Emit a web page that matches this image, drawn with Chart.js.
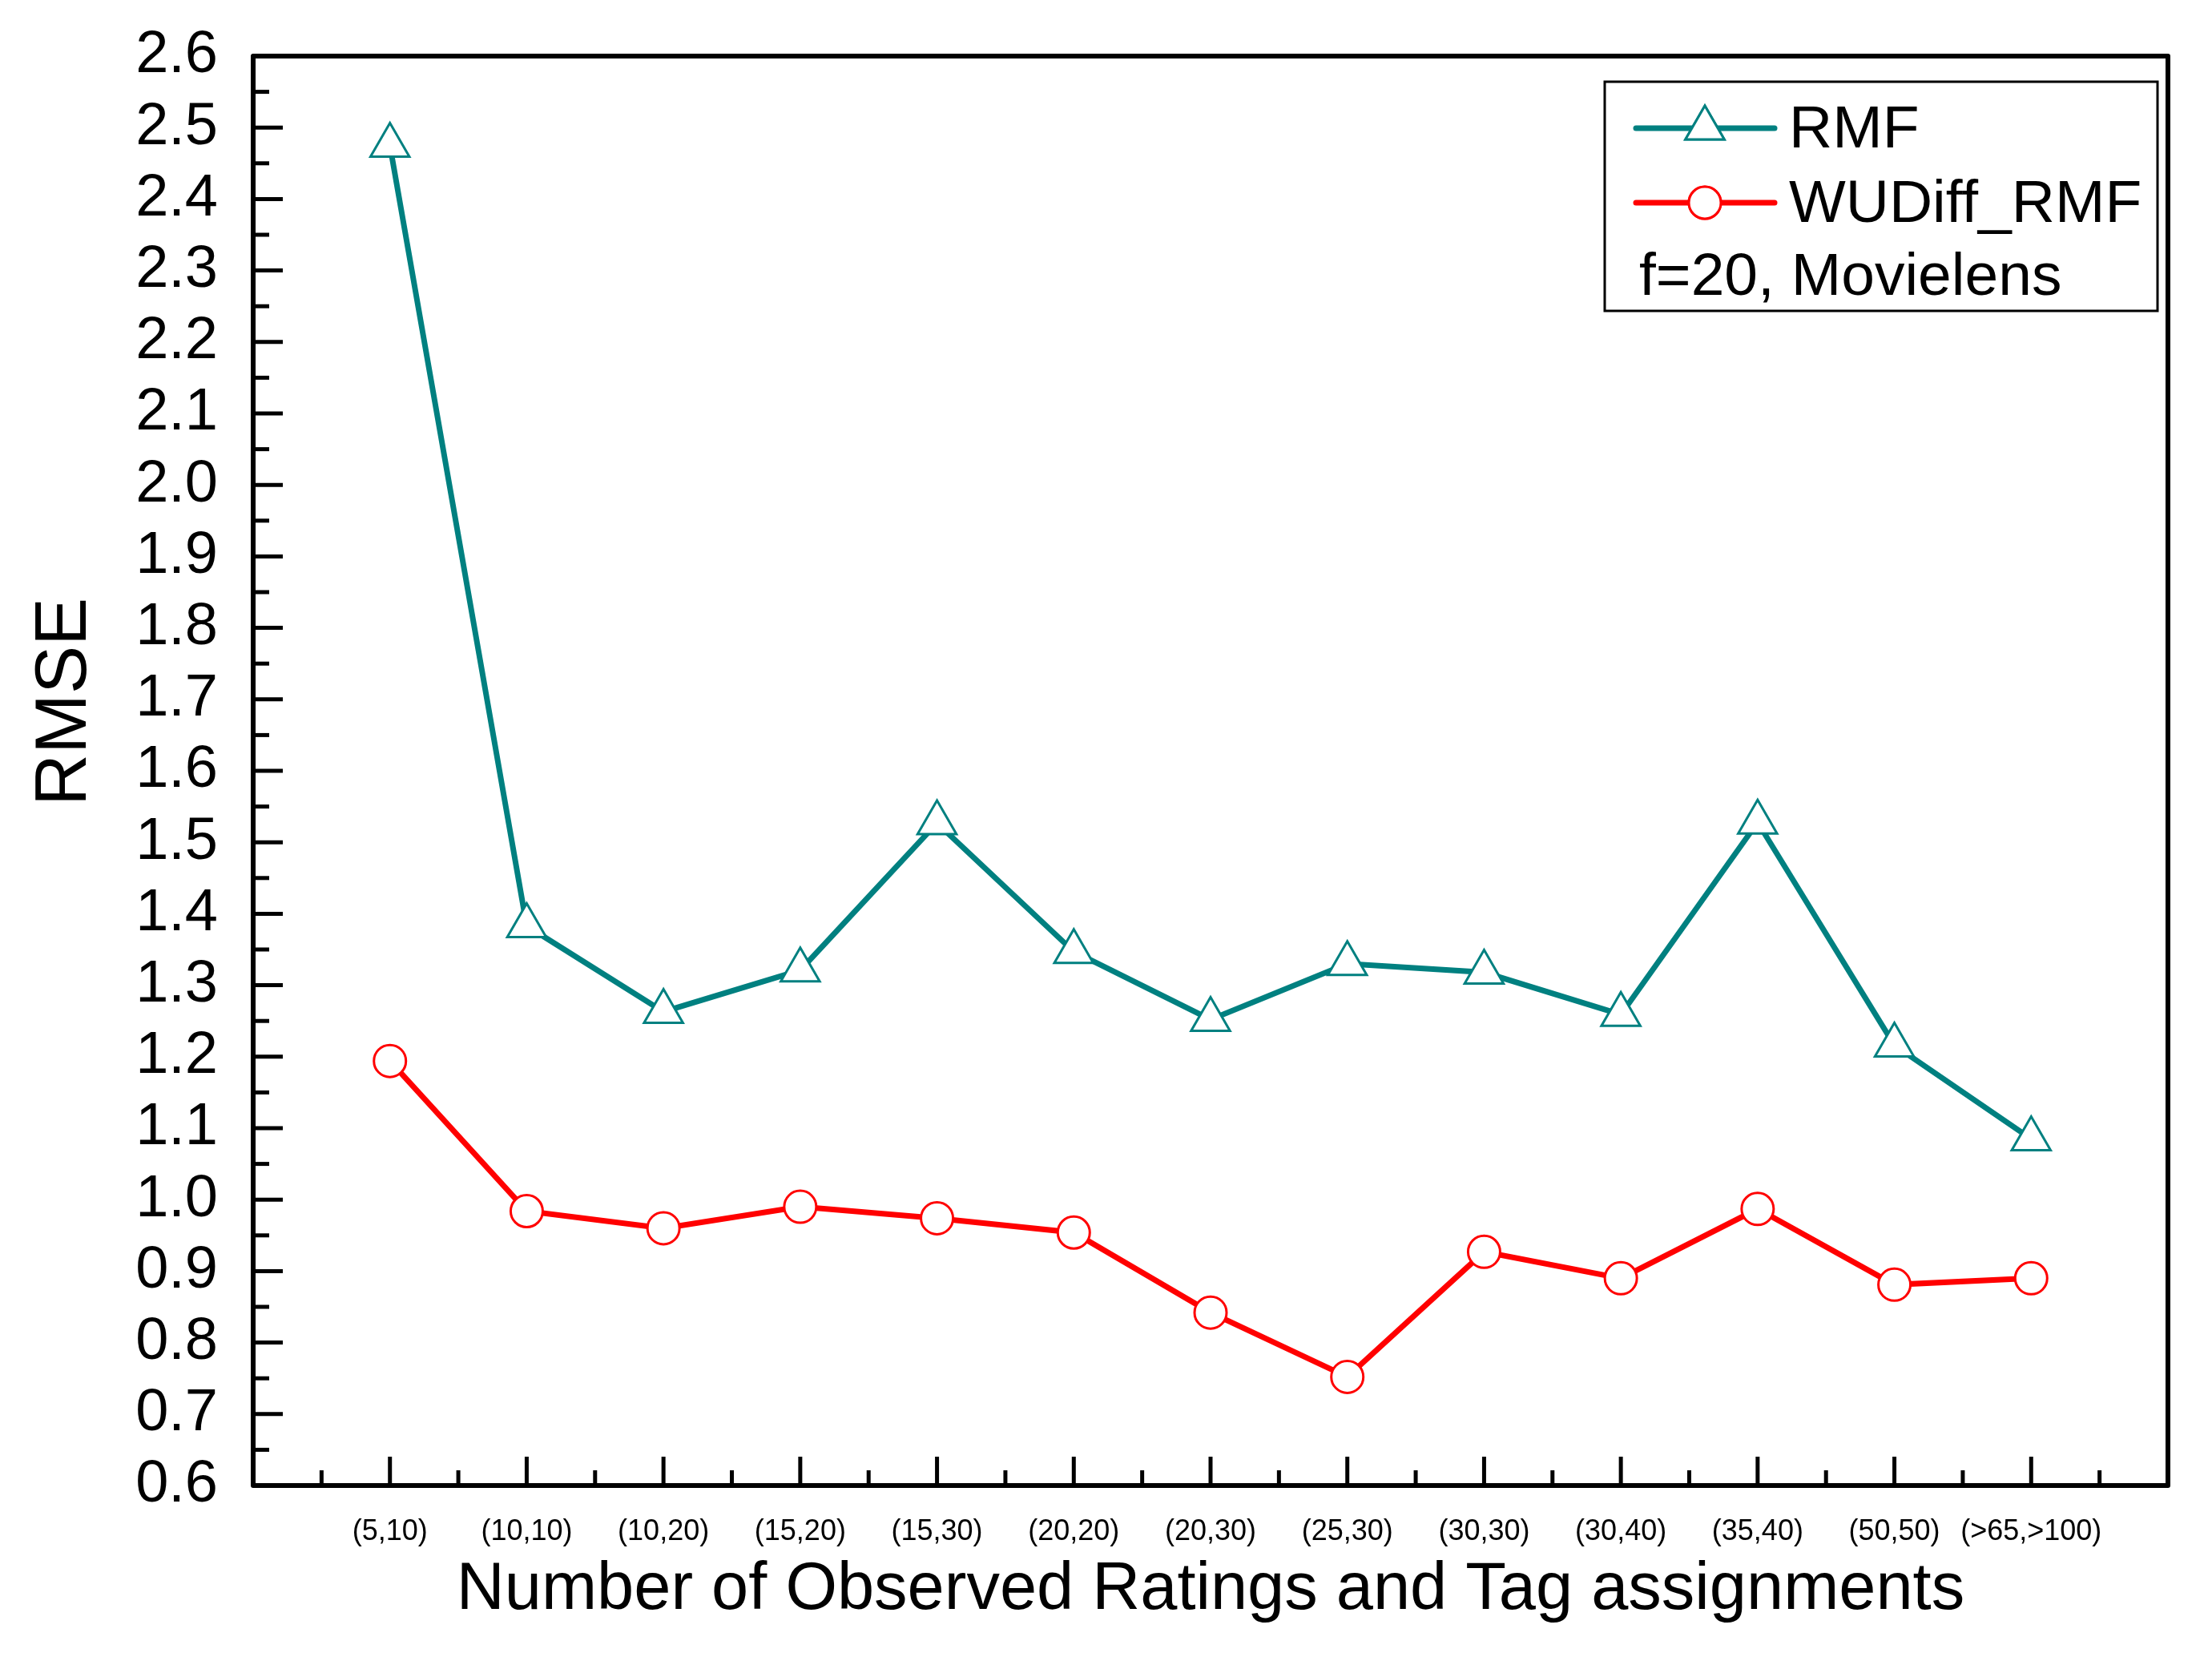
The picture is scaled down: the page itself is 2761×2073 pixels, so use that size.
<!DOCTYPE html>
<html>
  <head>
    <title>RMSE - RMF vs WUDiff_RMF</title>
    <script src="https://cdn.jsdelivr.net/npm/chart.js"></script>
    <style>
      html, body { margin: 0; padding: 0; background: #ffffff; }
      .chartframe { width: 2761px; height: 2073px; position: relative; }
    </style>
  </head>
  <body>
    <div class="chartframe">
      <canvas id="myChart"></canvas>
    </div>
  </body>
</html>
<script>
//------------------------------------------------------------------------------
// data
//------------------------------------------------------------------------------
var categories = ['(5,10)', '(10,10)', '(10,20)', '(15,20)', '(15,30)', '(20,20)', '(20,30)',
                  '(25,30)', '(30,30)', '(30,40)', '(35,40)', '(50,50)', '(>65,>100)'];
var rmfValues = [2.475, 1.383, 1.263, 1.321, 1.527, 1.347, 1.252, 1.330, 1.318, 1.259, 1.528, 1.216, 1.085];
var wudiffValues = [1.194, 0.984, 0.960, 0.990, 0.974, 0.954, 0.842, 0.752, 0.927, 0.890, 0.987, 0.881, 0.890];
var yTicks = [0.6, 0.7, 0.8, 0.9, 1.0, 1.1, 1.2, 1.3, 1.4, 1.5, 1.6, 1.7, 1.8, 1.9, 2.0, 2.1, 2.2, 2.3, 2.4, 2.5, 2.6];
var legendNote = 'f=20, Movielens';

var FONT = 'Arial, "Liberation Sans", Helvetica, sans-serif';
var TEAL = '#008080';
var RED = '#ff0000';

function toPoints(values) {
  return values.map(function(v, i) { return { x: i + 1, y: v }; });
}

//------------------------------------------------------------------------------
// frame, inward ticks, y title, legend
//------------------------------------------------------------------------------
var framePlugin = {
  id: 'framePlugin',
  afterDatasetsDraw: function(chart) {
    var ctx = chart.ctx;
    var a = chart.chartArea;
    var xs = chart.scales.x;
    var ys = chart.scales.y;
    ctx.save();
    ctx.strokeStyle = '#000';
    ctx.lineCap = 'butt';

    // x ticks (major at integers, minor at halves)
    ctx.lineWidth = 5;
    for (var k = 1; k < 28; k++) {
      var px = xs.getPixelForValue(k / 2);
      var len = (k % 2 === 0) ? 36 : 19;
      ctx.beginPath();
      ctx.moveTo(px, a.bottom);
      ctx.lineTo(px, a.bottom - len);
      ctx.stroke();
    }
    // y ticks (major every 0.1, minor every 0.05)
    for (var j = 13; j < 52; j++) {
      var py = ys.getPixelForValue(j / 20);
      var ylen = (j % 2 === 0) ? 37 : 20;
      ctx.beginPath();
      ctx.moveTo(a.left, py);
      ctx.lineTo(a.left + ylen, py);
      ctx.stroke();
    }
    // frame
    ctx.lineWidth = 6;
    ctx.lineJoin = 'round';
    ctx.strokeRect(a.left, a.top, a.right - a.left, a.bottom - a.top);

    // y axis title
    ctx.fillStyle = '#000';
    ctx.font = '90px ' + FONT;
    ctx.textAlign = 'center';
    ctx.textBaseline = 'middle';
    ctx.translate(82, 876);
    ctx.rotate(-Math.PI / 2);
    ctx.fillText('RMSE', 0, 0);
    ctx.restore();

    // legend
    ctx.save();
    ctx.lineWidth = 3;
    ctx.strokeStyle = '#000';
    ctx.fillStyle = '#fff';
    ctx.fillRect(2003, 102, 690, 286);
    ctx.strokeRect(2003, 102, 690, 286);
    var rows = [
      { ds: chart.data.datasets[0], y: 160 },
      { ds: chart.data.datasets[1], y: 253 }
    ];
    rows.forEach(function(r) {
      ctx.strokeStyle = r.ds.borderColor;
      ctx.lineWidth = r.ds.borderWidth;
      ctx.lineCap = 'round';
      ctx.beginPath();
      ctx.moveTo(2042, r.y);
      ctx.lineTo(2215, r.y);
      ctx.stroke();
      ctx.lineWidth = r.ds.pointBorderWidth;
      ctx.fillStyle = '#fff';
      Chart.helpers.drawPoint(ctx, {
        pointStyle: r.ds.pointStyle,
        radius: r.ds.pointRadius,
        borderWidth: r.ds.pointBorderWidth
      }, 2128, r.y);
      ctx.fill();
      ctx.stroke();
      ctx.fillStyle = '#000';
      ctx.font = '75px ' + FONT;
      ctx.textAlign = 'left';
      ctx.textBaseline = 'middle';
      ctx.fillText(r.ds.label, 2233, r.y + 3);
    });
    ctx.fillText(legendNote, 2046, 347);
    ctx.restore();
  }
};

//------------------------------------------------------------------------------
// chart
//------------------------------------------------------------------------------
var ctx = document.getElementById('myChart').getContext('2d');
var chart = new Chart(ctx, {
  type: 'line',
  data: {
    datasets: [{
      label: 'RMF',
      data: toPoints(rmfValues),
      borderColor: TEAL,
      backgroundColor: '#ffffff',
      borderWidth: 7,
      pointStyle: 'triangle',
      pointRadius: 28,
      pointBorderWidth: 3,
      pointBorderColor: TEAL,
      pointBackgroundColor: '#ffffff'
    }, {
      label: 'WUDiff_RMF',
      data: toPoints(wudiffValues),
      borderColor: RED,
      backgroundColor: '#ffffff',
      borderWidth: 7,
      pointStyle: 'circle',
      pointRadius: 20,
      pointBorderWidth: 3,
      pointBorderColor: RED,
      pointBackgroundColor: '#ffffff'
    }]
  },
  options: {
    responsive: true,
    maintainAspectRatio: false,
    devicePixelRatio: 1,
    animation: false,
    layout: { autoPadding: false, padding: { top: 70, right: 55, left: 0, bottom: 0 } },
    plugins: {
      legend: { display: false },
      tooltip: { enabled: false }
    },
    scales: {
      x: {
        type: 'linear',
        min: 0,
        max: 14,
        grid: { display: false, drawTicks: false },
        border: { display: false },
        afterFit: function(scale) {
          scale.height = 219;
          scale.paddingLeft = 0;
          scale.paddingRight = 0;
        },
        ticks: {
          stepSize: 1,
          autoSkip: false,
          maxRotation: 0,
          padding: 36,
          color: '#000',
          font: { family: FONT, size: 36 },
          callback: function(value) {
            return (value >= 1 && value <= categories.length) ? categories[value - 1] : '';
          }
        },
        title: {
          display: true,
          text: 'Number of Observed Ratings and Tag assignments',
          color: '#000',
          font: { family: FONT, size: 83 },
          padding: { top: 0, bottom: 38 }
        }
      },
      y: {
        min: 0.6,
        max: 2.6,
        grid: { display: false, drawTicks: false },
        border: { display: false },
        afterFit: function(scale) {
          scale.width = 316;
          scale.paddingTop = 0;
          scale.paddingBottom = 0;
        },
        afterBuildTicks: function(scale) {
          scale.ticks = yTicks.map(function(v) { return { value: v }; });
        },
        ticks: {
          autoSkip: false,
          padding: 44,
          color: '#000',
          font: { family: FONT, size: 74 },
          callback: function(value) { return Number(value).toFixed(1); }
        }
      }
    }
  },
  plugins: [framePlugin]
});
</script>
